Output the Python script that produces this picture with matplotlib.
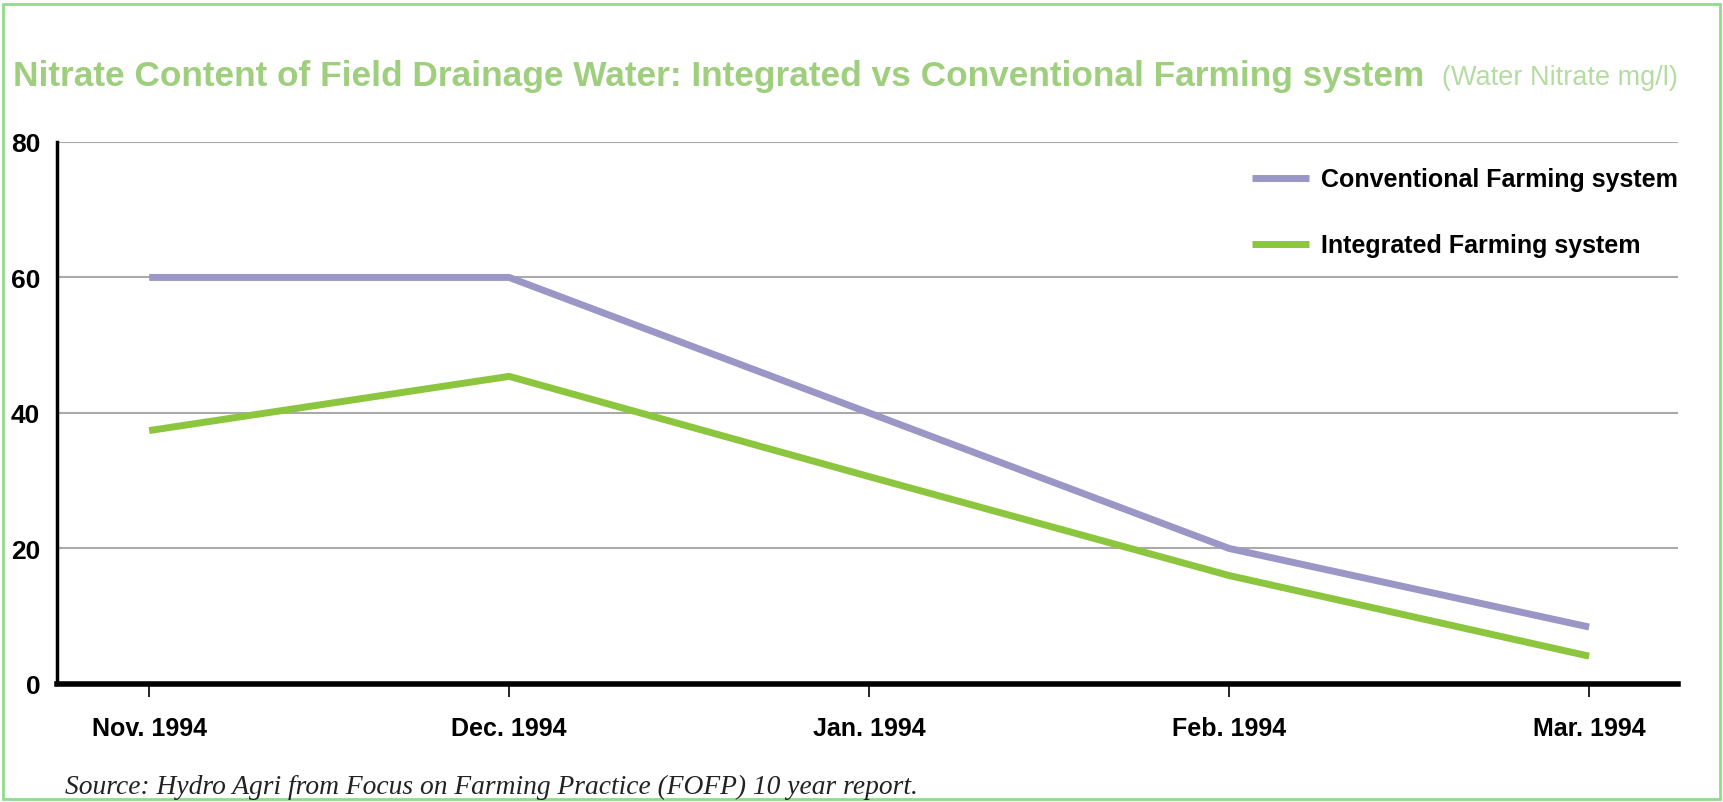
import matplotlib
matplotlib.use("Agg")
import matplotlib.pyplot as plt
from matplotlib.patches import Rectangle

months = ["Nov. 1994", "Dec. 1994", "Jan. 1994", "Feb. 1994", "Mar. 1994"]
conventional = [60, 60, 40, 20, 8.4]
integrated = [37.4, 45.4, 30.6, 16.0, 4.1]
y_ticks = [0, 20, 40, 60, 80]

purple = "#9a97c6"
green = "#8cc63e"
title_green = "#9fcf7e"

plt.rcParams["font.family"] = ["Liberation Sans", "DejaVu Sans"]

fig = plt.figure(figsize=(17.23, 8.03), dpi=100)
fig.patch.set_facecolor("white")
fig.patches.append(Rectangle((0.002, 0.004), 0.996, 0.99, transform=fig.transFigure,
                             fill=False, edgecolor="#8fdc8f", linewidth=2))

ax = fig.add_axes([0.0331, 0.147, 0.9408, 0.675])
x = list(range(len(months)))
ax.plot(x, conventional, color=purple, lw=5, label="Conventional Farming system",
        solid_capstyle="butt")
ax.plot(x, integrated, color=green, lw=5, label="Integrated Farming system",
        solid_capstyle="butt")

ax.set_xlim(-0.256, 4.247)
ax.set_ylim(0, 80)
ax.set_yticks(y_ticks)
ax.set_xticks(x)
ax.set_xticklabels(months, fontsize=18, fontweight="bold")
ax.set_yticklabels([str(v) for v in y_ticks], fontsize=19, fontweight="bold")
ax.tick_params(axis="y", length=0, pad=12)
ax.tick_params(axis="x", length=9, width=1.2, direction="out", pad=14)
for v in y_ticks[1:]:
    ax.axhline(v, color="#aaaaaa", lw=1.5, zorder=0)
for s in ["top", "right"]:
    ax.spines[s].set_visible(False)
ax.spines["left"].set_linewidth(2.5)
ax.spines["bottom"].set_linewidth(4)

leg = ax.legend(loc="upper right", bbox_to_anchor=(1.0, 0.953), frameon=False,
                prop={"size": 18, "weight": "bold"}, handlelength=2.25,
                handletextpad=0.5, labelspacing=1.68, borderaxespad=0,
                borderpad=0)

fig.text(0.0075, 0.905, "Nitrate Content of Field Drainage Water: Integrated vs Conventional Farming system",
         color=title_green, fontsize=25.4, fontweight="bold", va="center", ha="left")
fig.text(0.974, 0.903, "(Water Nitrate mg/l)", color="#b5dca0", fontsize=19.5,
         va="center", ha="right")
fig.text(0.038, 0.02, "Source: Hydro Agri from Focus on Farming Practice (FOFP) 10 year report.",
         family="Liberation Serif", style="italic", fontsize=19.8, color="#222222",
         va="center", ha="left")

fig.savefig("out.png", dpi=100)
